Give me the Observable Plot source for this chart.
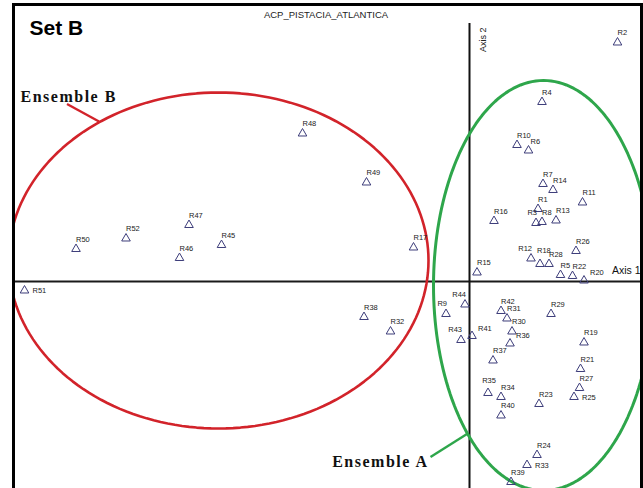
<!DOCTYPE html>
<html><head><meta charset="utf-8">
<script src="https://cdn.jsdelivr.net/npm/d3@7"></script>
<script src="https://cdn.jsdelivr.net/npm/@observablehq/plot@0.6"></script>
<style>
html,body{margin:0;padding:0;background:#fff;overflow:hidden}
#chart{position:relative;width:643px;height:488px;overflow:hidden}
</style></head><body><div id="chart"></div>
<script>
// PCA scores (Axis 1, Axis 2) for the 52 accessions
const names = ["R1","R2","R3","R4","R5","R6","R7","R8","R9","R10","R11","R12","R13","R14","R15","R16","R17","R18","R19","R20","R21","R22","R23","R24","R25","R26","R27","R28","R29","R30","R31","R32","R33","R34","R35","R36","R37","R38","R39","R40","R41","R42","R43","R44","R45","R46","R47","R48","R49","R50","R51","R52"];
const axis1 = [1.37,2.96,1.33,1.45,1.82,1.18,1.47,1.45,-0.47,0.95,2.26,1.23,1.73,1.67,0.15,0.49,-1.12,1.41,2.29,2.29,2.22,2.06,1.39,1.35,2.09,2.13,2.20,1.59,1.63,0.85,0.75,-1.58,1.15,0.63,0.37,0.81,0.47,-2.11,0.83,0.63,0.05,0.63,-0.17,-0.09,-4.96,-5.80,-5.61,-3.34,-2.06,-7.87,-8.90,-6.87];
const axis2 = [1.45,4.78,1.17,3.59,0.13,2.62,1.95,1.19,-0.65,2.73,1.58,0.46,1.22,1.83,0.18,1.21,0.68,0.35,-1.22,0.02,-1.75,0.11,-2.45,-3.47,-2.31,0.61,-2.13,0.35,-0.65,-1.00,-0.74,-1.00,-3.67,-2.31,-2.23,-1.24,-1.58,-0.71,-4.01,-2.68,-1.09,-0.59,-1.17,-0.46,0.73,0.47,1.13,2.96,1.98,0.65,-0.18,0.86];

// label placement groups (by name)
const labelsRight = ["R51","R33","R25"];
const labelsRightUp = ["R20","R41","R36"];
const labelsLeft = ["R3","R9","R44","R43","R12"];
const labelsCenter = ["R35"];
const labelsHigh = ["R18"];
const labelsNudge = ["R6"];

// Groups drawn as ellipses: centre and radii in score units
const groupNames = ["Ensemble A","Ensemble B"];
const groupCx = [1.48,-5.02];
const groupCy = [-0.08,0.42];
const groupRx = [2.2,4.2];
const groupRy = [4.1,3.36];
// group label anchor and pointer (score units)
const groupLabelX = [-0.82,-8.98];
const groupLabelY = [-3.70,3.60];
const pointerX1 = [-0.78,-8.05];
const pointerY1 = [-3.51,3.55];
const pointerX2 = [-0.05,-7.41];
const pointerY2 = [-3.05,3.20];

const axisLabels = ["Axis 1","Axis 2"];
const title = "ACP_PISTACIA_ATLANTICA";
const panel = "Set B";
const xDomain = [-9.12,3.44];
const yDomain = [-4.22,5.54];
const axis2Top = 5.16;

const points = names.map((n,i)=>({name:n,x:axis1[i],y:axis2[i]}));
const ellipses = groupNames.map((g,i)=>d3.range(0,361,2).map(a=>({
  group:g,
  x:groupCx[i]+groupRx[i]*Math.cos(a*Math.PI/180),
  y:groupCy[i]+groupRy[i]*Math.sin(a*Math.PI/180)})));
const groupColors = ["#2ea64b","#d2232a"];
const ann = groupNames.map((g,i)=>({group:g,x:groupLabelX[i],y:groupLabelY[i],x1:pointerX1[i],y1:pointerY1[i],x2:pointerX2[i],y2:pointerY2[i]}));

const inList = l => points.filter(d=>l.includes(d.name));
const special = [...labelsRight,...labelsRightUp,...labelsLeft,...labelsCenter,...labelsHigh,...labelsNudge];
const others = points.filter(d=>!special.includes(d.name));
const lblFont = {fontSize:7.5, fontFamily:"Liberation Sans, Arial, sans-serif", fill:"#222", lineAnchor:"middle"};

const plot = Plot.plot({
  width:643, height:488,
  marginLeft:13, marginRight:2, marginTop:4, marginBottom:-4,
  x:{domain:xDomain, axis:null},
  y:{domain:yDomain, axis:null},
  marks:[
    Plot.ruleY([0],{stroke:"#1a1a1a",strokeWidth:2}),
    Plot.ruleX([{x:0,y1:axis2Top,y2:yDomain[0]}],{x:"x",y1:"y1",y2:"y2",stroke:"#111",strokeWidth:2}),
    Plot.line(ellipses[1],{x:"x",y:"y",stroke:groupColors[1],strokeWidth:2.6,clip:true}),
    Plot.line(ellipses[0],{x:"x",y:"y",stroke:groupColors[0],strokeWidth:3,clip:true}),
    Plot.link([ann[1]],{x1:"x1",y1:"y1",x2:"x2",y2:"y2",stroke:groupColors[1],strokeWidth:2.4}),
    Plot.link([ann[0]],{x1:"x1",y1:"y1",x2:"x2",y2:"y2",stroke:groupColors[0],strokeWidth:2.4}),
    Plot.text([ann[1]],{x:"x",y:"y",text:"group",textAnchor:"start",lineAnchor:"bottom",fontSize:16,fontWeight:"bold",fontFamily:"Liberation Serif, Times New Roman, serif",fill:"#111"}),
    Plot.text([ann[0]],{x:"x",y:"y",text:"group",textAnchor:"end",lineAnchor:"bottom",fontSize:16,fontWeight:"bold",fontFamily:"Liberation Serif, Times New Roman, serif",fill:"#111"}),
    Plot.dot(points,{x:"x",y:"y",symbol:"triangle",r:3.2,stroke:"#3d3d7a",strokeWidth:1,fill:"none"}),
    Plot.text(others,{x:"x",y:"y",text:"name",textAnchor:"start",dx:0,dy:-9.5,...lblFont}),
    Plot.text(inList(labelsRight),{x:"x",y:"y",text:"name",textAnchor:"start",dx:8,dy:0.5,...lblFont}),
    Plot.text(inList(labelsRightUp),{x:"x",y:"y",text:"name",textAnchor:"start",dx:6,dy:-7.5,...lblFont}),
    Plot.text(inList(labelsLeft),{x:"x",y:"y",text:"name",textAnchor:"end",dx:1,dy:-10,...lblFont}),
    Plot.text(inList(labelsCenter),{x:"x",y:"y",text:"name",textAnchor:"middle",dx:1,dy:-12,...lblFont}),
    Plot.text(inList(labelsHigh),{x:"x",y:"y",text:"name",textAnchor:"start",dx:-3,dy:-13.5,...lblFont}),
    Plot.text(inList(labelsNudge),{x:"x",y:"y",text:"name",textAnchor:"start",dx:2,dy:-9,...lblFont}),
    Plot.text([{t:axisLabels[0],y:0}],{y:"y",text:"t",frameAnchor:"right",textAnchor:"end",lineAnchor:"bottom",dx:-1,dy:-8,fontSize:10.5,fontFamily:"Liberation Sans, Arial, sans-serif",fill:"#111"}),
    Plot.text([{t:axisLabels[1],x:0}],{x:"x",text:"t",frameAnchor:"top",rotate:-90,textAnchor:"end",lineAnchor:"middle",dx:14,dy:23,fontSize:9,fontFamily:"Liberation Sans, Arial, sans-serif",fill:"#222"}),
    Plot.text([title],{text:d=>d,frameAnchor:"top",textAnchor:"middle",lineAnchor:"bottom",dx:-1.5,dy:13,fontSize:9.5,fontFamily:"Liberation Sans, Arial, sans-serif",fill:"#222"}),
    Plot.text([panel],{text:d=>d,frameAnchor:"top-left",textAnchor:"start",lineAnchor:"bottom",dx:16,dy:30,fontSize:21,fontWeight:"bold",fontFamily:"Liberation Sans, Arial, sans-serif",fill:"#000"}),
    Plot.frame({stroke:"#000",strokeWidth:3})
  ]
});
d3.select(plot).selectAll("text").filter(function(){return this.textContent.startsWith("Ensemble");}).attr("letter-spacing","1.5px");
document.getElementById("chart").appendChild(plot);
</script></body></html>
